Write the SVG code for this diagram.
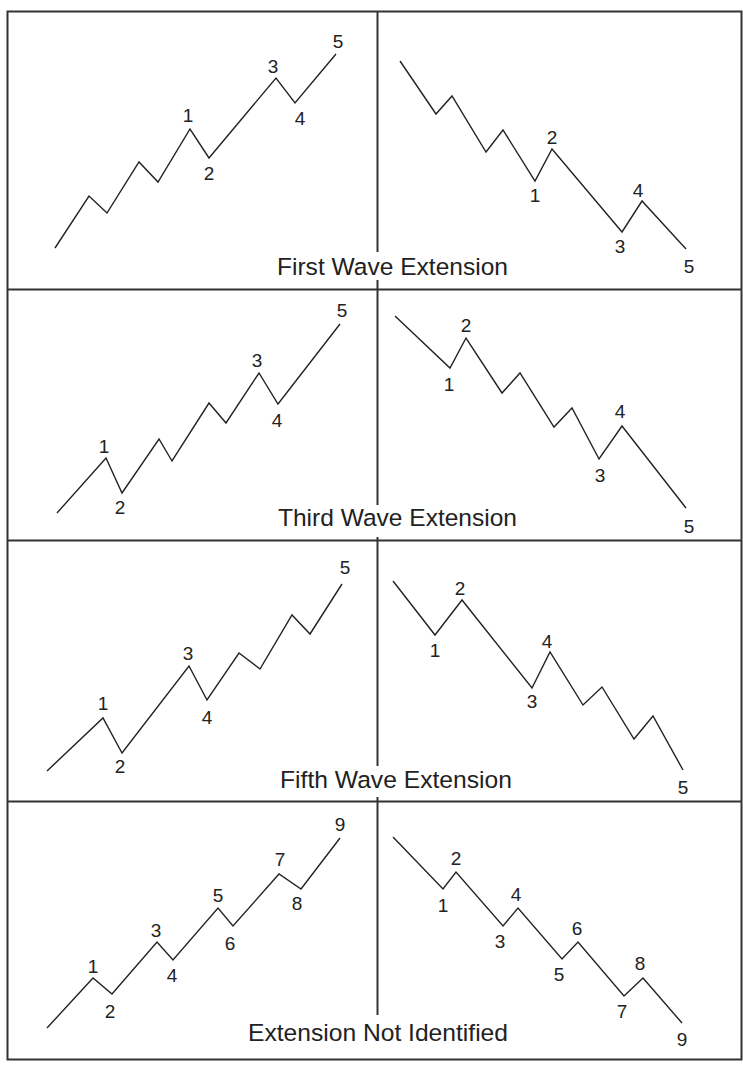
<svg xmlns="http://www.w3.org/2000/svg" width="743" height="1066" viewBox="0 0 743 1066">
<style>
.frame{fill:none;stroke:#333;stroke-width:2}
.div{stroke:#333;stroke-width:2;fill:none}
.wave{fill:none;stroke:#222;stroke-width:1.4;stroke-linejoin:miter}
.num{font-family:"Liberation Sans",Arial,sans-serif;font-size:19px;fill:#222;text-anchor:middle}
.title{font-family:"Liberation Sans",Arial,sans-serif;font-size:24.5px;fill:#222}
</style>
<rect x="0" y="0" width="743" height="1066" fill="#fff"/>
<g id="frame">
<rect class="frame" x="7.5" y="11.5" width="734" height="1048"/>
<line class="div" x1="7.5" y1="289.5" x2="741.5" y2="289.5"/>
<line class="div" x1="7.5" y1="540.5" x2="741.5" y2="540.5"/>
<line class="div" x1="7.5" y1="801.5" x2="741.5" y2="801.5"/>
<line class="div" x1="377.5" y1="11.5" x2="377.5" y2="252"/>
<line class="div" x1="377.5" y1="280" x2="377.5" y2="505"/>
<line class="div" x1="377.5" y1="537" x2="377.5" y2="766"/>
<line class="div" x1="377.5" y1="797" x2="377.5" y2="1015"/>
</g>
<g id="panel1">
<polyline class="wave" points="55,248 89,196 107,213 139,162 158,182 190,129 209,158 276,78 295,103 336,54"/>
<text class="num" x="188" y="122">1</text>
<text class="num" x="209" y="180">2</text>
<text class="num" x="273" y="73">3</text>
<text class="num" x="300" y="125">4</text>
<text class="num" x="338" y="48">5</text>
<polyline class="wave" points="400,61 436,114 452,96 486,152 503,130 535,181 552,149 622,232 642,201 686,249"/>
<text class="num" x="535" y="202">1</text>
<text class="num" x="552" y="144">2</text>
<text class="num" x="620" y="253">3</text>
<text class="num" x="638" y="197">4</text>
<text class="num" x="689" y="273">5</text>
<text class="title" x="277" y="275" textLength="231" lengthAdjust="spacingAndGlyphs">First Wave Extension</text>
</g>
<g id="panel2">
<polyline class="wave" points="57,513 106,458 122,493 159,439 172,461 209,403 226,423 259,373 278,404 340,324"/>
<text class="num" x="104" y="453">1</text>
<text class="num" x="120" y="514">2</text>
<text class="num" x="257" y="367">3</text>
<text class="num" x="277" y="427">4</text>
<text class="num" x="342" y="317">5</text>
<polyline class="wave" points="395,316 450,368 466,338 502,393 520,373 554,427 572,408 599,459 622,426 686,508"/>
<text class="num" x="449" y="391">1</text>
<text class="num" x="466" y="332">2</text>
<text class="num" x="600" y="482">3</text>
<text class="num" x="620" y="418">4</text>
<text class="num" x="689" y="533">5</text>
<text class="title" x="278" y="526" textLength="239" lengthAdjust="spacingAndGlyphs">Third Wave Extension</text>
</g>
<g id="panel3">
<polyline class="wave" points="47,771 103,718 122,753 189,666 207,700 239,653 260,669 292,615 310,634 342,584"/>
<text class="num" x="103" y="710">1</text>
<text class="num" x="120" y="773">2</text>
<text class="num" x="188" y="660">3</text>
<text class="num" x="207" y="724">4</text>
<text class="num" x="345" y="574">5</text>
<polyline class="wave" points="393,581 435,635 462,600 532,688 550,652 583,705 602,687 634,739 653,716 683,770"/>
<text class="num" x="435" y="657">1</text>
<text class="num" x="460" y="595">2</text>
<text class="num" x="532" y="708">3</text>
<text class="num" x="547" y="648">4</text>
<text class="num" x="683" y="794">5</text>
<text class="title" x="280" y="788" textLength="232" lengthAdjust="spacingAndGlyphs">Fifth Wave Extension</text>
</g>
<g id="panel4">
<polyline class="wave" points="47,1028 93,978 112,994 157,942 173,960 218,908 233,926 279,874 301,889 340,838"/>
<text class="num" x="93" y="973">1</text>
<text class="num" x="110" y="1018">2</text>
<text class="num" x="156" y="937">3</text>
<text class="num" x="172" y="982">4</text>
<text class="num" x="218" y="902">5</text>
<text class="num" x="230" y="950">6</text>
<text class="num" x="280" y="866">7</text>
<text class="num" x="297" y="910">8</text>
<text class="num" x="340" y="831">9</text>
<polyline class="wave" points="393,837 443,889 456,872 503,926 518,908 562,959 578,942 624,996 643,978 682,1023"/>
<text class="num" x="443" y="912">1</text>
<text class="num" x="456" y="865">2</text>
<text class="num" x="500" y="948">3</text>
<text class="num" x="516" y="901">4</text>
<text class="num" x="559" y="981">5</text>
<text class="num" x="577" y="935">6</text>
<text class="num" x="622" y="1018">7</text>
<text class="num" x="640" y="970">8</text>
<text class="num" x="682" y="1046">9</text>
<text class="title" x="248" y="1041" textLength="260" lengthAdjust="spacingAndGlyphs">Extension Not Identified</text>
</g>
</svg>
